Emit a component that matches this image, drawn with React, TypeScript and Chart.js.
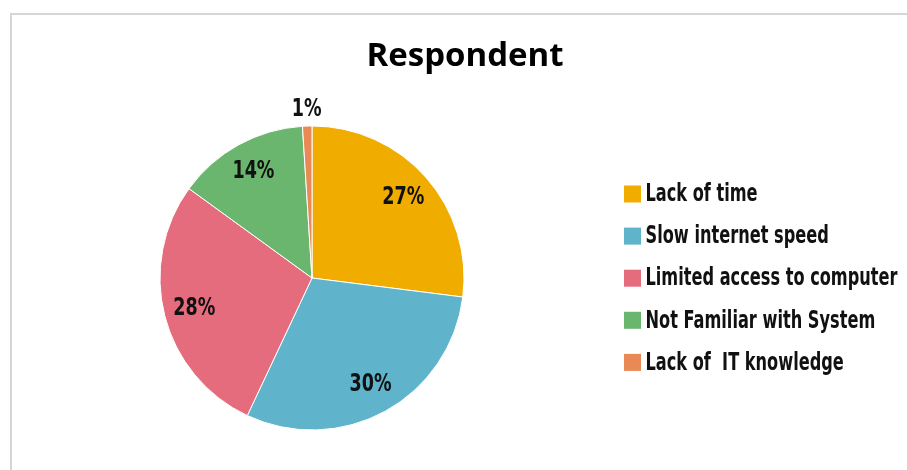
import React, { useEffect, useRef } from "react";
import { Chart, registerables } from "chart.js";

Chart.register(...registerables);

const TITLE = "Respondent";
const categories = [
  "Lack of time",
  "Slow internet speed",
  "Limited access to computer",
  "Not Familiar with System",
  "Lack of  IT knowledge",
];
const values = [27, 30, 28, 14, 1];
const valueLabels = ["27%", "30%", "28%", "14%", "1%"];
const colors = ["#F0AD00", "#5FB3CB", "#E46C7D", "#6AB66E", "#E98A56"];

const LABEL_FONT = '"Liberation Sans Narrow", "DejaVu Sans Condensed", "DejaVu Sans", sans-serif';
const TITLE_FONT = '"Open Sans", "Noto Sans", sans-serif';

// condensed-text helper: squeezes text horizontally so that `ref` measures refWidth
const squeezeFactor = (ctx: CanvasRenderingContext2D, ref: string, refWidth: number) => {
  const w = ctx.measureText(ref).width;
  return w > 0 ? Math.min(1, refWidth / w) : 1;
};

const sliceLabelPlugin = {
  id: "sliceLabels",
  afterDatasetsDraw(chart: any) {
    const ctx = chart.ctx as CanvasRenderingContext2D;
    const meta = chart.getDatasetMeta(0);
    const total = values.reduce((a, b) => a + b, 0);
    ctx.save();
    ctx.font = `bold 25px ${LABEL_FONT}`;
    ctx.fillStyle = "#111";
    ctx.textAlign = "center";
    ctx.textBaseline = "middle";
    const sx = squeezeFactor(ctx, "30%", 42);
    meta.data.forEach((arc: any, i: number) => {
      const { x, y, startAngle, endAngle, outerRadius } = arc.getProps(
        ["x", "y", "startAngle", "endAngle", "outerRadius"],
        true
      );
      const mid = (startAngle + endAngle) / 2;
      const share = values[i] / total;
      const r = share < 0.05 ? outerRadius + 17 : outerRadius * 0.8;
      ctx.save();
      ctx.translate(x + Math.cos(mid) * r, y + Math.sin(mid) * r);
      ctx.scale(sx, 1);
      ctx.fillText(valueLabels[i], 0, 0);
      ctx.restore();
    });
    ctx.restore();
  },
};

const titleLegendPlugin = {
  id: "titleLegend",
  afterDraw(chart: any) {
    const ctx = chart.ctx as CanvasRenderingContext2D;
    ctx.save();
    ctx.font = `bold 33px ${TITLE_FONT}`;
    ctx.fillStyle = "#000";
    ctx.textAlign = "center";
    ctx.textBaseline = "alphabetic";
    ctx.fillText(TITLE, 465, 66);

    // legend
    ctx.font = `bold 24px ${LABEL_FONT}`;
    ctx.textAlign = "left";
    ctx.textBaseline = "middle";
    const sx = squeezeFactor(ctx, categories[2], 252);
    const boxLeft = 624;
    const box = 17;
    const textLeft = 645.5;
    const firstY = 194;
    const step = 42.1;
    categories.forEach((text, i) => {
      const yc = firstY + i * step;
      ctx.fillStyle = colors[i];
      ctx.fillRect(boxLeft, yc - box / 2, box, box);
      ctx.save();
      ctx.translate(textLeft, yc + 1);
      ctx.scale(sx, 1);
      ctx.fillStyle = "#111";
      ctx.fillText(text, 0, 0);
      ctx.restore();
    });
    ctx.restore();
  },
};

export default function App() {
  const ref = useRef<HTMLCanvasElement | null>(null);

  useEffect(() => {
    if (!ref.current) return;
    const chart = new Chart(ref.current, {
      type: "pie",
      data: {
        labels: categories,
        datasets: [
          {
            data: values,
            backgroundColor: colors,
            borderColor: "#ffffff",
            borderWidth: 1,
            hoverBorderWidth: 1,
            hoverOffset: 0,
            radius: 152,
          } as any,
        ],
      },
      options: {
        animation: false,
        responsive: false,
        events: [],
        layout: { padding: { top: 86, bottom: 0, left: 11, right: 294 } },
        plugins: {
          title: { display: false },
          tooltip: { enabled: false },
          legend: { display: false },
        },
      } as any,
      plugins: [sliceLabelPlugin, titleLegendPlugin],
    });
    return () => chart.destroy();
  }, []);

  return (
    <div
      style={{
        position: "fixed",
        left: 0,
        top: 0,
        width: 907,
        height: 470,
        overflow: "hidden",
        background: "#fff",
      }}
    >
      <div
        style={{
          position: "absolute",
          left: 10,
          top: 13,
          width: 1000,
          height: 1000,
          borderLeft: "2px solid #d6d6d6",
          borderTop: "2px solid #d6d6d6",
        }}
      />
      <canvas
        ref={ref}
        width={907}
        height={470}
        style={{ position: "absolute", left: 0, top: 0, width: 907, height: 470 }}
      />
    </div>
  );
}
